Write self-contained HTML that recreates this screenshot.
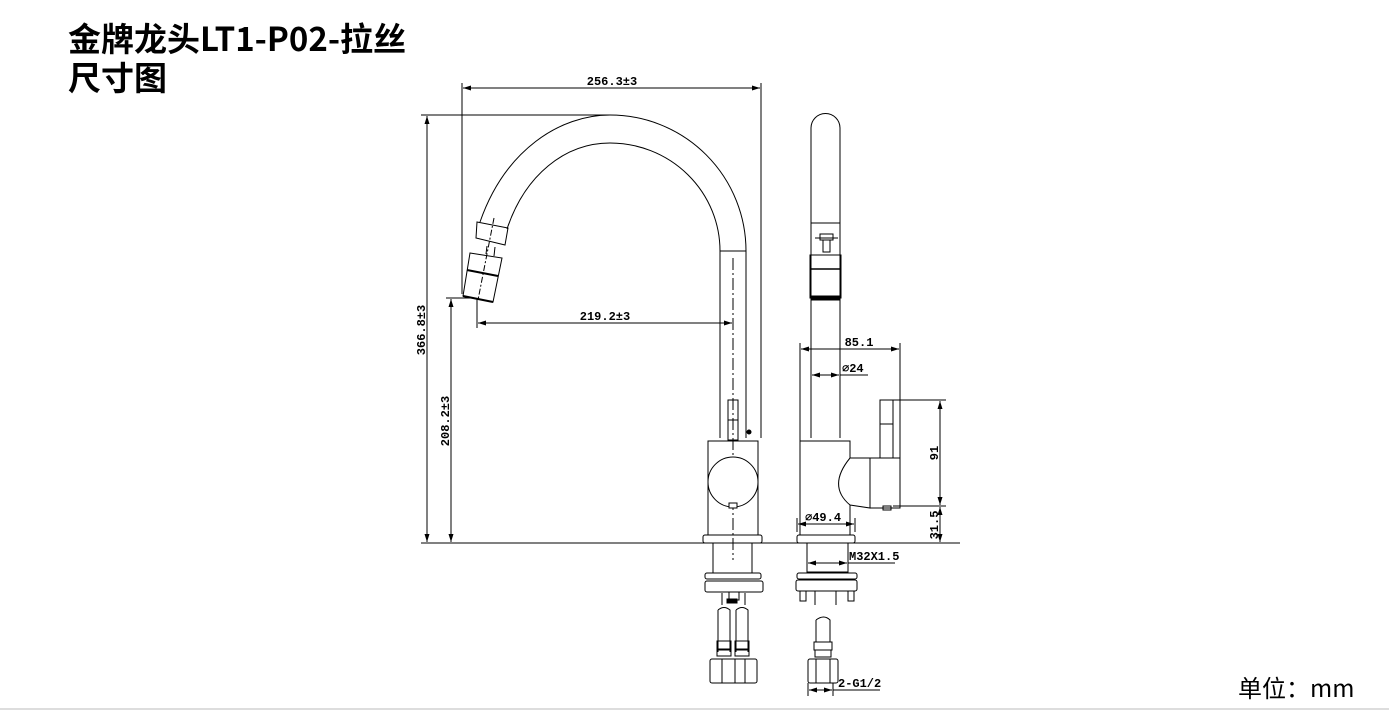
<!DOCTYPE html>
<html><head><meta charset="utf-8"><style>
html,body{margin:0;padding:0;background:#fff;width:1389px;height:711px;overflow:hidden}
.t{position:absolute;left:68px;font:bold 33px/1 "Noto Sans CJK SC","Liberation Sans",sans-serif;color:#000;white-space:nowrap}
svg{position:absolute;left:0;top:0}
.d{font:bold 12px "Liberation Mono","DejaVu Sans Mono",monospace;fill:#000}
</style></head><body>
<div class="t" style="top:21px">金牌龙头LT1-P02-拉丝</div>
<div class="t" style="top:60px">尺寸图</div>
<svg width="1389" height="711" viewBox="0 0 1389 711" fill="none" stroke="#000" stroke-width="1">
<defs><marker id="a" markerWidth="8" markerHeight="6" refX="8" refY="3" orient="auto-start-reverse" markerUnits="userSpaceOnUse"><path d="M0,0.5 L8,3 L0,5.5" fill="#000" stroke="none"/></marker></defs>
<line x1="462" y1="83" x2="462" y2="294"/>
<line x1="761" y1="83" x2="761" y2="438"/>
<line x1="463" y1="88" x2="760" y2="88" marker-start="url(#a)" marker-end="url(#a)"/>
<text class="d" x="612" y="85" text-anchor="middle" stroke="none">256.3±3</text>
<line x1="421" y1="115" x2="610" y2="115"/>
<line x1="427" y1="116" x2="427" y2="542" marker-start="url(#a)" marker-end="url(#a)"/>
<text class="d" transform="translate(425,330) rotate(-90)" text-anchor="middle" stroke="none">366.8±3</text>
<line x1="446" y1="298" x2="475" y2="298"/>
<line x1="451" y1="299" x2="451" y2="542" marker-start="url(#a)" marker-end="url(#a)"/>
<text class="d" transform="translate(449,421) rotate(-90)" text-anchor="middle" stroke="none">208.2±3</text>
<line x1="421" y1="543" x2="960" y2="543"/>
<line x1="477" y1="298" x2="477" y2="328"/>
<line x1="478" y1="323" x2="732" y2="323" marker-start="url(#a)" marker-end="url(#a)"/>
<text class="d" x="605" y="320" text-anchor="middle" stroke="none">219.2±3</text>
<path d="M746,251 A136,136 0 0 0 610,115 C560,115 505,150 480,222"/>
<path d="M720,251 A110,108 0 0 0 610,143 C565,143 525,175 507,229"/>
<line x1="720" y1="251" x2="746" y2="251"/>
<line x1="720" y1="251" x2="720" y2="438"/>
<line x1="746" y1="251" x2="746" y2="438"/>
<line x1="733" y1="258" x2="733" y2="560" stroke-dasharray="12,3,2,3"/>
<path d="M477,222 L508,228 L505,245 L476,238 Z"/>
<path d="M487,246 L486,254 M495,247 L494,256"/>
<path d="M470,253 L502,258 L493,302 L463,296 Z"/>
<line x1="467" y1="270" x2="498" y2="276" stroke-width="2"/>
<line x1="463" y1="296" x2="493" y2="302" stroke-width="2"/>
<line x1="494" y1="218" x2="478" y2="300" stroke-dasharray="6,2,2,2"/>
<rect x="728" y="400" width="10" height="40"/>
<line x1="728" y1="420" x2="738" y2="420"/>
<circle cx="749" cy="432" r="2" fill="#000"/>
<rect x="708" y="441" width="50" height="94"/>
<circle cx="733" cy="482" r="25" fill="#fff"/>
<rect x="729" y="503" width="8" height="5" fill="#fff"/>
<rect x="703" y="535" width="59" height="8" rx="2"/>
<rect x="713" y="543" width="39" height="30"/>
<rect x="705" y="573" width="56" height="6" rx="2"/>
<rect x="705" y="581" width="58" height="11" rx="2"/>
<path d="M729,592 v8 h10 v-8 M722,593 v12 M745,593 v12"/>
<rect x="727" y="599" width="10" height="4" fill="#000"/>
<path d="M718,610 q6,-5 12,0 v42 M718,610 v42 M736,610 q6,-5 12,0 v42 M736,610 v42"/>
<rect x="717" y="641" width="14" height="8"/><rect x="735" y="641" width="14" height="8"/>
<rect x="717" y="650" width="14" height="6"/><rect x="735" y="650" width="14" height="6"/>
<rect x="710" y="659" width="47" height="24" rx="2"/>
<line x1="722" y1="659" x2="722" y2="683"/><line x1="735" y1="659" x2="735" y2="683"/><line x1="745" y1="659" x2="745" y2="683"/>
<path d="M811,438 V128 A14.5,14.5 0 0 1 840,128 V438"/>
<line x1="811" y1="223" x2="840" y2="223"/>
<path d="M815,238 h23 M820,234 h13 v6 h-13 z M823,240 v12 h7 v-12"/>
<rect x="810" y="255" width="31" height="43"/>
<line x1="810" y1="269" x2="841" y2="269" stroke-width="1.5"/>
<rect x="811" y="296" width="29" height="4" fill="#000"/>
<rect x="800" y="441" width="50" height="94"/>
<path d="M850,458 L870,458 L870,508 L850,505 C838,495 832,480 850,458" fill="#fff"/>
<rect x="870" y="458" width="30" height="50"/>
<rect x="880" y="400" width="13" height="58"/>
<line x1="880" y1="424" x2="893" y2="424"/>
<rect x="883" y="506" width="8" height="4"/>
<rect x="797" y="535" width="58" height="8" rx="2"/>
<rect x="807" y="543" width="41" height="29"/>
<rect x="797" y="573" width="60" height="6" rx="2"/>
<rect x="796" y="580" width="61" height="11" rx="2"/>
<path d="M800,591 v10 h6 v-10 M848,591 v10 h6 v-10"/>
<path d="M815,591 v14 M836,591 v14"/>
<path d="M816,620 q8,-6 14,0 v22 M816,620 v22"/>
<rect x="814" y="642" width="18" height="8"/><rect x="815" y="650" width="16" height="7"/>
<rect x="808" y="659" width="30" height="24" rx="2"/>
<line x1="816" y1="659" x2="816" y2="683"/><line x1="830" y1="659" x2="830" y2="683"/>
<line x1="800" y1="343" x2="800" y2="441"/>
<line x1="900" y1="343" x2="900" y2="458"/>
<line x1="801" y1="349" x2="899" y2="349" marker-start="url(#a)" marker-end="url(#a)"/>
<text class="d" x="859" y="346" text-anchor="middle" stroke="none">85.1</text>
<line x1="812" y1="375" x2="839" y2="375" marker-start="url(#a)" marker-end="url(#a)"/>
<line x1="840" y1="375" x2="868" y2="375"/>
<text class="d" x="842" y="372" stroke="none">∅24</text>
<line x1="893" y1="400" x2="946" y2="400"/>
<line x1="893" y1="506" x2="946" y2="506"/>
<line x1="940" y1="401" x2="940" y2="505" marker-start="url(#a)" marker-end="url(#a)"/>
<line x1="940" y1="507" x2="940" y2="542" marker-start="url(#a)" marker-end="url(#a)"/>
<text class="d" transform="translate(938,453) rotate(-90)" text-anchor="middle" stroke="none">91</text>
<text class="d" transform="translate(938,525) rotate(-90)" text-anchor="middle" stroke="none">31.5</text>
<line x1="797" y1="518" x2="797" y2="532"/><line x1="855" y1="518" x2="855" y2="532"/>
<line x1="798" y1="524" x2="854" y2="524" marker-start="url(#a)" marker-end="url(#a)"/>
<text class="d" x="805" y="521" stroke="none">∅49.4</text>
<line x1="808" y1="563" x2="847" y2="563" marker-start="url(#a)" marker-end="url(#a)"/>
<line x1="848" y1="563" x2="895" y2="563"/>
<text class="d" x="849" y="560" stroke="none">M32X1.5</text>
<line x1="808" y1="683" x2="808" y2="696"/><line x1="833" y1="683" x2="833" y2="696"/>
<line x1="809" y1="690" x2="832" y2="690" marker-start="url(#a)" marker-end="url(#a)"/>
<line x1="833" y1="690" x2="880" y2="690"/>
<text class="d" x="838" y="687" stroke="none">2-G1/2</text>
<line x1="0" y1="709" x2="1389" y2="709" stroke="#ddd" stroke-width="2"/>
</svg>
<div style="position:absolute;left:1238px;top:673px;font:24px/1.2 'Noto Sans CJK SC','Liberation Sans',sans-serif;color:#000">单位：mm</div>
</body></html>
